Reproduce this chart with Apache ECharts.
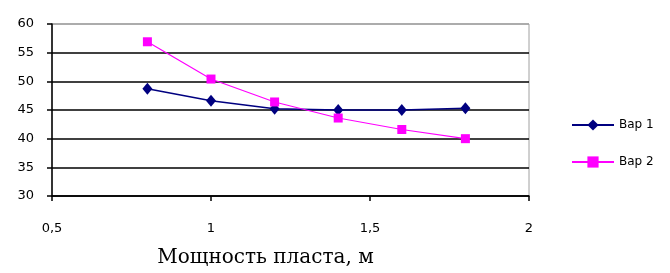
<!DOCTYPE html>
<html><head><meta charset="utf-8">
<script src="https://cdn.jsdelivr.net/npm/echarts@6/dist/echarts.min.js"></script>
<style>html,body{margin:0;padding:0;background:#fff}#c{width:670px;height:273px}</style>
</head><body><div id="c"></div>
<script>
const xValues = [0.8, 1.0, 1.2, 1.4, 1.6, 1.8];
const var1 = [48.7, 46.6, 45.2, 45.0, 45.0, 45.3];
const var2 = [56.9, 50.4, 46.4, 43.6, 41.6, 40.0];
const seriesNames = ['Вар 1', 'Вар 2'];
const xTitle = 'Мощность пласта, м';

const chart = echarts.init(document.getElementById('c'));
const fmt = v => String(v).replace('.', ',');
chart.setOption({
  animation: false,
  grid: {left: 52, right: 141, top: 24, bottom: 76, show: true, borderColor: '#a0a0a0', borderWidth: 1, backgroundColor: 'transparent'},
  legend: {
    orient: 'vertical', left: 566, top: 114, itemWidth: 42, itemHeight: 14, itemGap: 25,
    textStyle: {fontFamily: 'DejaVu Sans', fontSize: 12, color: '#000'},
    data: seriesNames
  },
  xAxis: {
    type: 'value', min: 0.5, max: 2, interval: 0.5,
    name: xTitle, nameLocation: 'middle', nameGap: 52,
    nameTextStyle: {fontFamily: 'DejaVu Serif, Liberation Serif, serif', fontSize: 20, color: '#000', padding: [0, 50, 0, 0]},
    axisLine: {onZero: false, lineStyle: {color: '#000', width: 1.5}},
    axisTick: {show: true, inside: false, length: 5, lineStyle: {color: '#000', width: 1.5}},
    axisLabel: {margin: 26, fontFamily: 'DejaVu Sans', fontSize: 13, color: '#000', formatter: fmt},
    splitLine: {show: false}
  },
  yAxis: {
    type: 'value', min: 30, max: 60, interval: 5,
    axisLine: {show: true, lineStyle: {color: '#000', width: 1.5}},
    axisTick: {show: true, length: 5, lineStyle: {color: '#000', width: 1.5}},
    axisLabel: {margin: 18, fontFamily: 'DejaVu Sans', fontSize: 13, color: '#000'},
    splitLine: {show: true, lineStyle: {color: ['#000', '#000', '#000', '#000', '#000', '#000', '#a0a0a0'], width: 1.5}}
  },
  series: [
    {name: seriesNames[0], type: 'line', data: xValues.map((x, i) => [x, var1[i]]),
     symbol: 'diamond', symbolSize: [10, 12], color: '#000080',
     lineStyle: {color: '#000080', width: 1.5}, itemStyle: {color: '#000080'}},
    {name: seriesNames[1], type: 'line', data: xValues.map((x, i) => [x, var2[i]]),
     symbol: 'rect', symbolSize: 9, color: '#ff00ff',
     lineStyle: {color: '#ff00ff', width: 1.2}, itemStyle: {color: '#ff00ff'}}
  ]
});
</script></body></html>
